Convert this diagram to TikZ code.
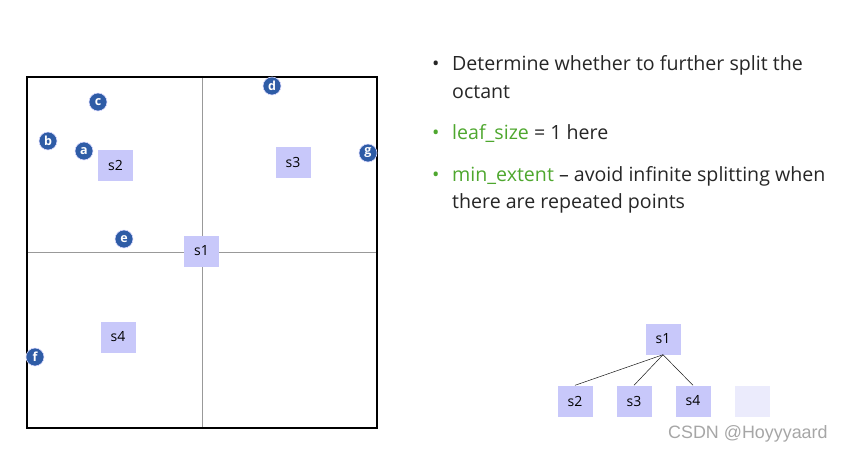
\documentclass[tikz,border=0pt]{standalone}
\usepackage{fontspec}
\setmainfont{Open Sans}
\newfontfamily\markfont{Liberation Sans}
\definecolor{pointblue}{HTML}{2E5CA6}
\definecolor{boxblue}{HTML}{C8C8FA}
\definecolor{boxpale}{HTML}{EBEBFC}
\definecolor{leafgreen}{HTML}{4EA72E}
\definecolor{textgray}{HTML}{262626}
\tikzset{
  pt/.style={circle, fill=pointblue, draw=blue!15, line width=0.6pt, minimum size=18pt, inner sep=0pt, text=white, font=\bfseries\fontsize{12.5}{12.5}\selectfont},
  cell/.style={fill=boxblue, minimum width=35pt, minimum height=31pt, inner sep=0pt, text=black, font=\fontsize{14}{14}\selectfont},
  bullettext/.style={anchor=base west, inner sep=0pt, text=textgray, font=\fontsize{19.6}{19.6}\selectfont},
}
\begin{document}
\begin{tikzpicture}[x=1pt, y=-1pt]
		\useasboundingbox (0,0) rectangle (841,451);
		
		% Octant outline and split lines
		\draw[gray!80, line width=0.8pt] (202,77) -- (202,428);
		\draw[gray!80, line width=0.8pt] (27,252) -- (377,252);
		\draw[line width=1.6pt] (27,77) rectangle (377,428);
		
		% Cell centres
		\node[cell] (c1) at (201.5,251) {s1};
		\node[cell] (c2) at (115.5,165.5) {s2};
		\node[cell] (c3) at (293,162.5) {s3};
		\node[cell] (c4) at (118,337) {s4};
		
		% Points
		\node[pt] (pa) at (84,151) {a};
		\node[pt] (pb) at (48,141) {b};
		\node[pt] (pc) at (98,102) {c};
		\node[pt] (pd) at (272,86) {d};
		\node[pt] (pe) at (124,239) {e};
		\node[pt] (pf) at (35,357) {f};
		\node[pt] (pg) at (368,153) {g};
		
		% Bullet list
		\node[bullettext] (b1) at (452,70) {Determine whether to further split the};
		\node[bullettext] (b1b) at (452,98) {octant};
		\node[bullettext] (b2) at (452,139) {\textcolor{leafgreen}{leaf\_size} = 1 here};
		\node[bullettext] (b3) at (452,181) {\textcolor{leafgreen}{min\_extent} -- avoid infinite splitting when};
		\node[bullettext] (b3b) at (452,208) {there are repeated points};
		\node[bullettext] (d1) at (432,70) {\textbullet};
		\node[bullettext, text=leafgreen] (d2) at (432,139) {\textbullet};
		\node[bullettext, text=leafgreen] (d3) at (432,181) {\textbullet};
		
		% Tree
		\node[cell] (t1) at (663,339) {s1};
		\node[cell] (t2) at (575,401) {s2};
		\node[cell] (t3) at (634,401) {s3};
		\node[cell] (t4) at (693,401) {s4};
		\node[cell, fill=boxpale] (t5) at (752,401) {};
		\draw[gray!20!black, line width=0.5pt] (t1.south) -- (t2.north);
		\draw[gray!20!black, line width=0.5pt] (t1.south) -- (t3.north);
		\draw[gray!20!black, line width=0.5pt] (t1.south) -- (t4.north);
		
		% Watermark
		\node[anchor=base west, inner sep=0pt, text=gray!70, font=\markfont\fontsize{17.9}{17.9}\selectfont] (wm) at (668,438) {CSDN @Hoyyyaard};
		
	\end{tikzpicture}
\end{document}
